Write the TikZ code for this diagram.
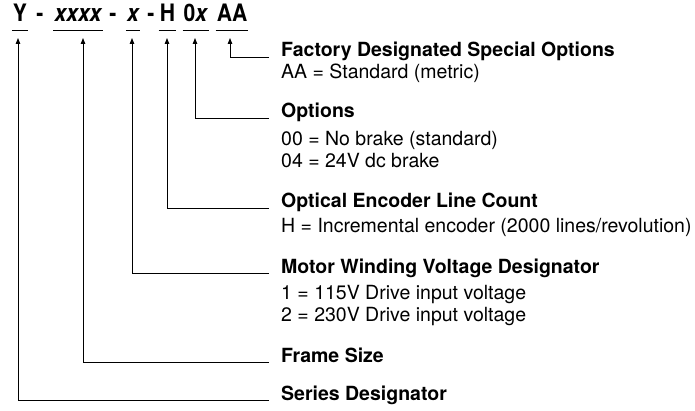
\documentclass[tikz,border=0pt]{standalone}
\usepackage{fontspec}
\setmainfont{TeX Gyre Heros}
\newfontfamily\codefont[FakeStretch=0.88]{TeX Gyre Heros}
\usetikzlibrary{arrows.meta}
\begin{document}
\begin{tikzpicture}[x=1pt,y=-1pt,
  code/.style={anchor=base,inner sep=0pt,font=\codefont\fontsize{24}{26}\selectfont\bfseries},
  head/.style={anchor=base west,inner sep=0pt,font=\fontsize{19.5}{22}\selectfont\bfseries},
  desc/.style={anchor=base west,inner sep=0pt,font=\fontsize{19.5}{22}\selectfont},
  uline/.style={line width=1pt},
  arr/.style={line width=0.9pt,-{Triangle[length=6pt,width=4.5pt]}}]
\useasboundingbox (0,0) rectangle (695,411);
% code
\node[code] (Y) at (20,22) {Y};
\node[code] (d1) at (40,22) {-};
\node[code] (X4) at (78,22) {\itshape xxxx};
\node[code] (d2) at (113,22) {-};
\node[code] (X1) at (133,22) {\itshape x};
\node[code] (d3) at (151,22) {-};
\node[code] (H) at (167.5,22) {H};
\node[code] (O) at (196,22) {0\textit{x}};
\node[code] (AA) at (232,22) {AA};
\foreach \n in {Y,X4,X1,H,O,AA}
  \draw[uline] ([xshift=-1pt,yshift=-9pt]\n.base west) -- ([xshift=1pt,yshift=-9pt]\n.base east);
% descriptions
\node[head] (hF) at (281,57) {Factory Designated Special Options};
\node[desc] (dF) at (281,79) {AA = Standard (metric)};
\node[head] (hO) at (281,118) {Options};
\node[desc] (dO1) at (281,146) {00 = No brake (standard)};
\node[desc] (dO2) at (281,168) {04 = 24V dc brake};
\node[head] (hE) at (281,208) {Optical Encoder Line Count};
\node[desc] (dE) at (281,233) {H = Incremental encoder (2000 lines/revolution)};
\node[head] (hM) at (281,273) {Motor Winding Voltage Designator};
\node[desc] (dM1) at (281,299) {1 = 115V Drive input voltage};
\node[desc] (dM2) at (281,321) {2 = 230V Drive input voltage};
\node[head] (hS) at (281,362) {Frame Size};
\node[head] (hD) at (281,400) {Series Designator};
% connectors
\draw[arr] ([xshift=-12pt]hF.base west) -| ([xshift=-2pt,yshift=-16pt]AA.base);
\draw[arr] ([xshift=-12pt]hO.base west) -| ([xshift=-1pt,yshift=-16pt]O.base);
\draw[arr] ([xshift=-12pt]hE.base west) -| ([xshift=-0.5pt,yshift=-16pt]H.base);
\draw[arr] ([xshift=-12pt]hM.base west) -| ([xshift=-1pt,yshift=-16pt]X1.base);
\draw[arr] ([xshift=-12pt]hS.base west) -| ([xshift=5pt,yshift=-16pt]X4.base);
\draw[arr] ([xshift=-12pt]hD.base west) -| ([xshift=-2pt,yshift=-16pt]Y.base);
\end{tikzpicture}
\end{document}
